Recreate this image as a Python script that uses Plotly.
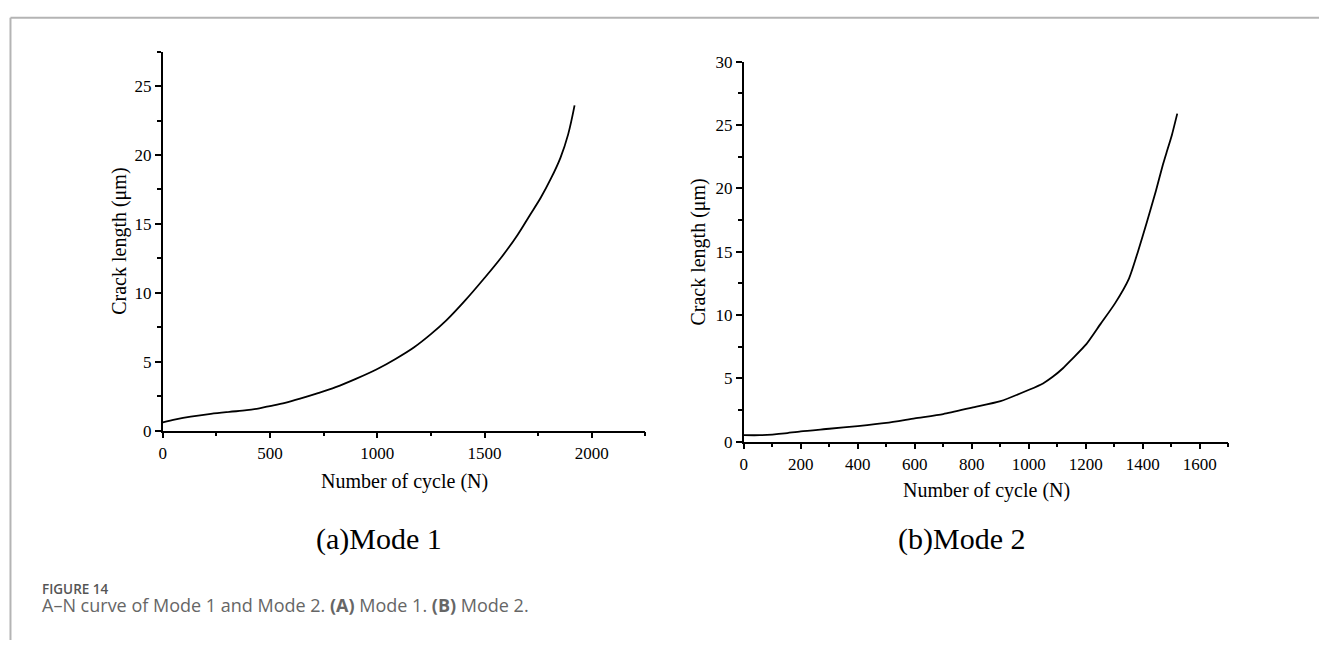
import plotly.graph_objects as go

# ---- data ----
mode1_cycles = [0, 60, 130, 224, 310, 391, 450, 499, 570, 640, 720, 806, 900, 998, 1085, 1172, 1250, 1322, 1410, 1496, 1580, 1654, 1710, 1762, 1810, 1854, 1890, 1920]
mode1_length = [0.6, 0.82, 1.02, 1.22, 1.36, 1.48, 1.62, 1.78, 2.02, 2.32, 2.7, 3.15, 3.75, 4.45, 5.2, 6.05, 7.0, 8.0, 9.45, 11.0, 12.6, 14.2, 15.6, 16.9, 18.3, 19.8, 21.5, 23.6]

mode2_cycles = [0, 56, 100, 144, 200, 300, 400, 500, 600, 700, 801, 901, 1001, 1050, 1083, 1120, 1151, 1202, 1252, 1302, 1352, 1383, 1414, 1446, 1471, 1483, 1502, 1521]
mode2_length = [0.51, 0.51, 0.56, 0.65, 0.82, 1.02, 1.23, 1.48, 1.84, 2.18, 2.69, 3.2, 4.1, 4.6, 5.1, 5.8, 6.5, 7.7, 9.3, 10.9, 12.9, 15.0, 17.3, 19.8, 21.9, 22.8, 24.2, 25.9]

x_title = "Number of cycle (N)"
y_title = "Crack length (\u03bcm)"
panel_labels = ["(a)Mode 1", "(b)Mode 2"]
fig_label = "FIGURE 14"
fig_caption = "A\u2013N curve of Mode 1 and Mode 2. <b>(A)</b> Mode 1. <b>(B)</b> Mode 2."

W, H = 1319, 650
SERIF = "Liberation Serif, Times New Roman, serif"
SANS = "Open Sans, Noto Sans, sans-serif"

def px(x):
    return x / W

def py(y):
    return 1 - y / H

fig = go.Figure()
fig.add_trace(go.Scatter(x=mode1_cycles, y=mode1_length, mode="lines", line=dict(color="black", width=1.8, shape="spline"),
                         xaxis="x", yaxis="y", showlegend=False))
fig.add_trace(go.Scatter(x=mode2_cycles, y=mode2_length, mode="lines", line=dict(color="black", width=1.8, shape="spline", smoothing=0.6),
                         xaxis="x2", yaxis="y2", showlegend=False))

tickfont = dict(family=SERIF, size=17, color="black")
minor_style = dict(ticks="outside", ticklen=4, tickwidth=1.5, tickcolor="black")
common = dict(showline=True, linecolor="black", linewidth=1.6, ticks="outside", ticklen=6, tickwidth=1.5,
              tickcolor="black", showgrid=False, zeroline=False, tickfont=tickfont, fixedrange=True)

L = dict(x0=159.3, x1=643.3, y0=434.3, y1=44)
R = dict(x0=742, x1=1228, y0=445.7, y1=54.3)

fig.update_layout(
    width=W, height=H, margin=dict(l=0, r=0, t=0, b=0),
    paper_bgcolor="white", plot_bgcolor="white",
    xaxis=dict(domain=[px(L["x0"]), px(L["x1"])], range=[0, 2250], dtick=500, anchor="y",
               minor=dict(dtick=250, **minor_style), **common),
    yaxis=dict(domain=[py(L["y0"]), py(L["y1"])], range=[0, 27.5], dtick=5, anchor="x",
               minor=dict(dtick=2.5, **minor_style), **common),
    xaxis2=dict(domain=[px(R["x0"]), px(R["x1"])], range=[0, 1700], dtick=200, anchor="y2",
                minor=dict(dtick=100, **minor_style), **common),
    yaxis2=dict(domain=[py(R["y0"]), py(R["y1"])], range=[0, 30], dtick=5, anchor="x2",
                minor=dict(dtick=2.5, **minor_style), **common),
)

ann = []
def add_text(x, y, text, size, family=SERIF, color="black", angle=0, xanchor="center", yanchor="middle", weight="normal"):
    ann.append(dict(x=px(x), y=py(y), xref="paper", yref="paper", text=text, showarrow=False,
                    font=dict(family=family, size=size, color=color, weight=weight), textangle=angle,
                    xanchor=xanchor, yanchor=yanchor, align="left", borderpad=0))

# axis titles
add_text((L["x0"] + L["x1"]) / 2, 487, x_title, 20)
add_text(116, (L["y0"] + L["y1"]) / 2, y_title, 20, angle=-90)
add_text((R["x0"] + R["x1"]) / 2, 496, x_title, 20)
add_text(697, (R["y0"] + R["y1"]) / 2, y_title, 20, angle=-90)
# panel labels
add_text(376, 546, panel_labels[0], 30)
add_text(960, 546, panel_labels[1], 30)
# figure label + caption as one two-line text block
caption_block = (f"{fig_label}<br>"
                 f"<span style='font-size:18px;color:#666666;font-weight:normal'>{fig_caption}</span>")
add_text(37, 607, caption_block, 13.5, family=SANS, color="#555555", xanchor="left", weight=600)
fig.update_layout(annotations=ann)

# card border (top and left)
fig.add_shape(type="line", xref="paper", yref="paper", x0=px(6.5), x1=1, y0=py(9), y1=py(9),
              line=dict(color="#b4b4b4", width=2))
fig.add_shape(type="line", xref="paper", yref="paper", x0=px(6.5), x1=px(6.5), y0=py(9), y1=0,
              line=dict(color="#b4b4b4", width=2))

fig.write_html("out.html")
